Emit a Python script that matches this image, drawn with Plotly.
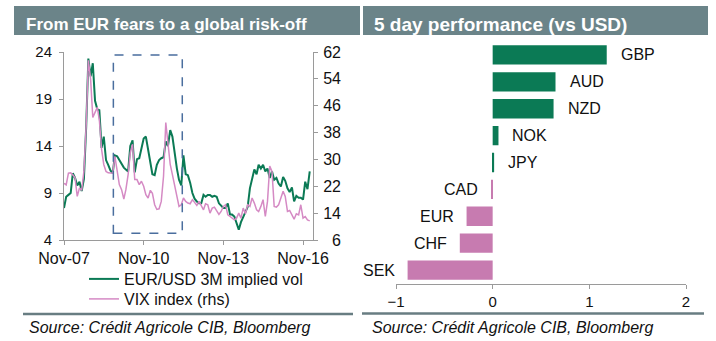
import pandas as pd
import plotly.graph_objects as go

# ---------------- data ----------------
start_month = "2007-11-01"
n_months = 112
dates = pd.date_range(start_month, periods=n_months, freq="MS")

eurusd_vol = [
    7.4, 8.6, 8.8, 9.0, 11.1, 10.6, 9.8, 10.2, 9.2, 10.5,
    16.0, 23.3, 21.4, 22.8, 18.8, 17.9, 17.8, 13.8, 15.0, 12.5,
    12.0, 11.4, 11.1, 13.0, 12.9, 12.5, 12.0, 11.7, 11.5, 11.3,
    14.0, 14.6, 11.2, 12.6, 12.7, 13.6, 14.8, 15.0, 13.5, 12.0,
    11.0, 10.9, 12.0, 12.5, 12.7, 12.8, 14.5, 14.0, 15.7, 15.0,
    13.2, 11.6, 10.4, 9.8, 13.0, 11.0, 10.9, 10.1, 9.0, 8.4,
    8.1, 7.9, 7.9, 8.8, 8.6, 8.8, 8.8, 8.6, 8.7, 8.6,
    7.9, 7.6, 7.4, 7.4, 7.9, 6.7, 6.7, 6.5, 5.9, 5.1,
    5.9, 6.4, 7.0, 7.5, 9.5, 10.4, 11.5, 11.0, 12.0, 11.6,
    12.0, 11.3, 11.6, 10.6, 11.3, 10.4, 10.6, 10.0, 9.7, 10.7,
    10.3, 9.5, 9.1, 9.6, 8.1, 8.7, 8.5, 8.5, 8.3, 10.2,
    9.4, 11.3,
]

vix = [
    22.9, 22.4, 25.9, 26.0, 25.4, 24.5, 19.0, 21.5, 20.8, 26.5,
    40.0, 59.5, 54.0, 42.5, 44.0, 45.5, 41.8, 33.0, 28.5, 26.4,
    26.0, 25.9, 25.9, 30.9, 26.0, 22.5, 21.0, 18.2, 21.0, 25.5,
    32.0, 34.5, 24.0, 24.0, 22.5, 23.5, 22.0, 19.5, 18.5, 20.8,
    19.9, 16.5, 15.1, 15.3, 17.5, 25.0, 41.0, 35.0, 28.5, 25.5,
    22.0, 19.0, 16.0, 16.5, 18.5, 17.5, 17.0, 16.8, 18.0, 17.2,
    16.3, 17.5, 16.0, 15.0, 16.8, 16.5, 14.0, 15.5, 15.8, 14.8,
    13.6, 14.5, 16.0, 16.5, 13.5, 13.0, 12.4, 12.0, 12.5, 14.0,
    12.5, 15.5, 13.8, 16.5, 16.0, 18.5, 17.0, 15.0, 14.5, 16.0,
    18.0, 13.0, 17.5, 28.0, 26.4, 16.0, 15.8, 16.5, 18.5, 20.5,
    19.0, 14.5, 14.8, 13.5, 12.2, 13.8, 13.5, 16.5, 12.5, 13.0,
    12.0, 11.7,
]

x_tick_vals = ["2007-11-01", "2010-11-01", "2013-11-01", "2016-11-01"]
x_tick_text = ["Nov-07", "Nov-10", "Nov-13", "Nov-16"]
left_ticks = [4, 9, 14, 19, 24]
right_ticks = [6, 14, 22, 30, 38, 46, 54, 62]
right_tick_text = ["\u20076", "14", "22", "30", "38", "46", "54", "62"]

# highlighted period (dashed box)
box_start, box_end = "2009-09-10", "2012-04-15"
box_low, box_high = 4.71, 23.68

currencies = ["GBP", "AUD", "NZD", "NOK", "JPY", "CAD", "EUR", "CHF", "SEK"]
perf = [1.18, 0.65, 0.63, 0.06, 0.015, -0.015, -0.27, -0.34, -0.88]
bar_ticks = [-1, 0, 1, 2]

# ---------------- styles ----------------
W, H = 716, 341
FONT = "Liberation Sans, Arial, sans-serif"
GREEN = "#0b7a55"
PINK_LINE = "#d58ac4"
PINK_BAR = "#c77bb0"
HEADER = "#6b8489"
AXIS = "#9a9a9a"


def px(x):
    return x / W


def py(y):
    return 1 - y / H


fig = go.Figure()

fig.add_trace(go.Scatter(
    x=dates, y=eurusd_vol, mode="lines", name="EUR/USD 3M implied vol",
    line=dict(color=GREEN, width=2), xaxis="x", yaxis="y", legend="legend",
))
fig.add_trace(go.Scatter(
    x=dates, y=vix, mode="lines", name="VIX index (rhs)",
    line=dict(color=PINK_LINE, width=1.5), xaxis="x", yaxis="y2", legend="legend2",
))

fig.add_trace(go.Bar(
    x=perf, y=currencies, orientation="h",
    marker=dict(color=[GREEN if v >= 0 else PINK_BAR for v in perf], line=dict(width=0)),
    xaxis="x3", yaxis="y3", showlegend=False,
))

annotations = []
for c, v in zip(currencies, perf):
    annotations.append(dict(
        x=v, y=c, xref="x3", yref="y3", text=c, showarrow=False,
        xanchor="left" if v >= 0 else "right",
        xshift=12 if v >= 0 else -11,
        font=dict(family=FONT, size=16, color="#111"),
    ))

annotations += [
    dict(x=px(24), y=py(24.5), xref="paper", yref="paper", xanchor="left", yanchor="middle",
         text="<b>From EUR fears to a global risk-off</b>", showarrow=False,
         font=dict(family=FONT, size=17, color="white")),
    dict(x=px(372), y=py(24.5), xref="paper", yref="paper", xanchor="left", yanchor="middle",
         text="<b>5 day performance (vs USD)</b>", showarrow=False,
         font=dict(family=FONT, size=19, color="white")),
    dict(x=px(27), y=py(327), xref="paper", yref="paper", xanchor="left", yanchor="middle",
         text="<i>Source: Crédit Agricole CIB, Bloomberg</i>", showarrow=False,
         font=dict(family=FONT, size=16, color="#111")),
    dict(x=px(370), y=py(327), xref="paper", yref="paper", xanchor="left", yanchor="middle",
         text="<i>Source: Crédit Agricole CIB, Bloomberg</i>", showarrow=False,
         font=dict(family=FONT, size=16, color="#111")),
]

shapes = [
    dict(type="rect", xref="paper", yref="paper", x0=px(14), x1=px(360), y0=py(35), y1=py(6),
         fillcolor=HEADER, line=dict(width=0), layer="below"),
    dict(type="rect", xref="paper", yref="paper", x0=px(363), x1=px(708), y0=py(35), y1=py(6),
         fillcolor=HEADER, line=dict(width=0), layer="below"),
    dict(type="line", xref="paper", yref="paper", x0=px(23), x1=px(353), y0=py(314), y1=py(314),
         line=dict(color="#687d82", width=2.5)),
    dict(type="line", xref="paper", yref="paper", x0=px(362), x1=px(704), y0=py(313.5), y1=py(313.5),
         line=dict(color="#687d82", width=2.5)),
    dict(type="rect", xref="x", yref="y", x0=box_start, x1=box_end, y0=box_low, y1=box_high,
         line=dict(color="#4a6e9e", width=1.5, dash="dash"), fillcolor="rgba(0,0,0,0)"),
]

tickfont = dict(family=FONT, size=15, color="#111")
common = dict(showgrid=False, zeroline=False, automargin=False,
              tickcolor=AXIS, linecolor=AXIS, linewidth=1)
legend_style = dict(xanchor="left", yanchor="top", bgcolor="rgba(0,0,0,0)", borderwidth=0,
                    font=dict(family=FONT, size=16, color="#111"))

fig.update_layout(
    width=W, height=H, margin=dict(l=0, r=0, t=0, b=0, autoexpand=False),
    paper_bgcolor="white", plot_bgcolor="white",
    font=dict(family=FONT, size=15, color="#111"),
    showlegend=True,
    legend=dict(x=px(84), y=py(262), **legend_style),
    legend2=dict(x=px(84), y=py(282), **legend_style),
    xaxis=dict(domain=[px(64), px(313)], type="date", range=["2007-11-01", "2017-03-18"],
               tickvals=x_tick_vals, ticktext=x_tick_text, ticks="outside", ticklen=4,
               showline=True, anchor="y", tickfont=dict(family=FONT, size=16, color="#111"),
               **common),
    yaxis=dict(domain=[py(240), py(52)], range=[4, 24], tickvals=left_ticks, ticks="outside",
               ticklen=4, showline=True, anchor="x", tickfont=tickfont, ticklabelstandoff=4,
               **common),
    yaxis2=dict(range=[6, 62], tickvals=right_ticks, ticktext=right_tick_text, overlaying="y",
                side="right", anchor="x", ticks="outside", ticklen=4, showline=True,
                tickfont=dict(family=FONT, size=16, color="#111"), ticklabelstandoff=2, **common),
    xaxis3=dict(domain=[px(396), px(686)], range=[-1, 2], tickvals=bar_ticks, ticks="outside",
                ticklen=4, showline=True, anchor="y3", tickfont=tickfont, **common),
    yaxis3=dict(domain=[py(283.5), py(41.5)], type="category", categoryorder="array",
                categoryarray=currencies[::-1], range=[-0.5, 8.5], showline=False,
                showticklabels=False, ticks="", anchor="x3",
                showgrid=False, zeroline=False, automargin=False),
    bargap=0.28,
    annotations=annotations,
    shapes=shapes,
)

fig.write_html("out.html")
